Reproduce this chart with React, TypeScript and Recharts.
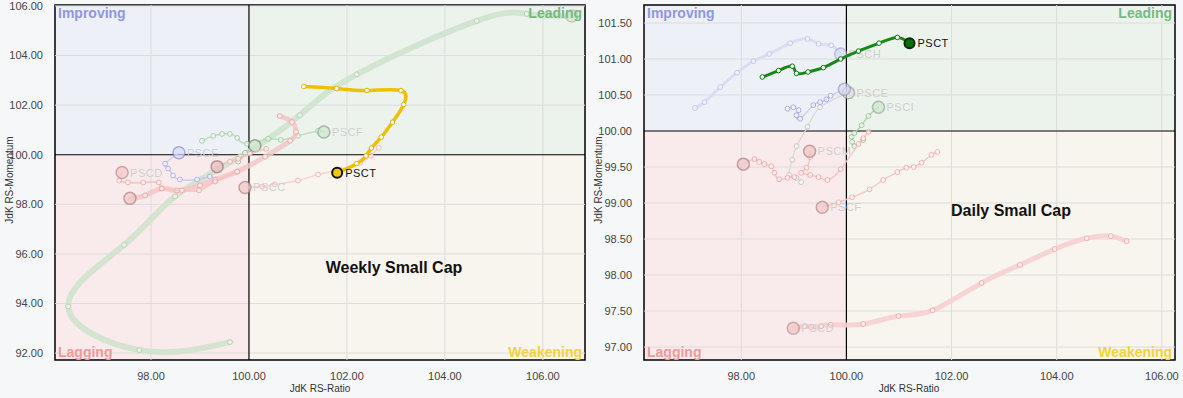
import React from "react";
import { ScatterChart, Scatter, XAxis, YAxis, ReferenceArea, ReferenceLine } from "recharts";

type Pt = [number, number];

const FONT = "Arial, 'Liberation Sans', Helvetica, sans-serif";

// ---- weekly chart values ----
const weeklyXTicks = [98, 100, 102, 104, 106];
const weeklyYTicks = [92, 94, 96, 98, 100, 102, 104, 106];
const weeklyXDomain: Pt = [96.04, 106.86];
const weeklyYDomain: Pt = [91.72, 106.04];

const weeklyPSCT: Pt[] = [
  [101.12, 102.75], [101.79, 102.67], [102.41, 102.59], [103.1, 102.59], [103.16, 102.03],
  [102.93, 101.31], [102.7, 100.71], [102.5, 100.27], [102.39, 99.95], [102.2, 99.64], [101.8, 99.27],
];
const weeklyBigGreen: Pt[] = [
  [99.61, 92.44], [97.76, 92.12], [96.31, 93.88], [97.45, 96.36], [98.49, 98.32], [99.82, 99.92],
  [101.04, 101.6], [102.2, 103.24], [104.65, 105.4], [105.67, 105.68], [106.59, 105.6],
];
const weeklyPSCF: Pt[] = [
  [99.04, 100.56], [99.27, 100.76], [99.45, 100.84], [99.61, 100.84], [99.76, 100.68], [99.96, 100.44],
  [100.39, 100.64], [100.65, 100.6], [101.0, 100.76], [101.41, 100.96], [101.53, 100.92],
];
const weeklyGreenB: Pt[] = [[99.78, 99.72], [99.92, 100.08], [100.12, 100.36]];
const weeklyPSCE: Pt[] = [
  [99.31, 98.96], [99.2, 99.12], [98.94, 99.0], [98.59, 99.0], [98.45, 99.16], [98.35, 99.44],
  [98.29, 99.64], [98.57, 100.08],
];
const weeklyPinkThick: Pt[] = [
  [100.63, 101.56], [100.88, 101.32], [100.96, 100.92], [100.84, 100.56], [100.33, 99.92], [99.76, 99.32],
  [99.31, 99.0], [99.0, 98.76], [98.53, 98.56], [98.22, 98.64], [97.88, 98.36], [97.57, 98.24],
];
const weeklyPSCD: Pt[] = [
  [99.76, 99.32], [99.31, 98.92], [98.98, 98.56], [98.63, 98.56], [98.22, 98.64], [98.16, 98.88],
  [97.84, 98.88], [97.53, 98.88], [97.35, 98.96], [97.41, 99.28],
];
const weeklyPinkC: Pt[] = [[100.35, 100.24], [100.02, 100.04], [99.78, 99.84], [99.61, 99.72], [99.35, 99.52]];
const weeklyPSCC: Pt[] = [
  [102.65, 100.28], [102.49, 99.96], [102.27, 99.68], [101.86, 99.4], [101.41, 99.2], [101.0, 98.96],
  [100.53, 98.8], [100.27, 98.72], [99.92, 98.68],
];

// ---- daily chart values ----
const dailyXTicks = [98, 100, 102, 104, 106];
const dailyYTicks = [97, 97.5, 98, 98.5, 99, 99.5, 100, 100.5, 101, 101.5];
const dailyXDomain: Pt = [96.15, 106.25];
const dailyYDomain: Pt = [96.82, 101.75];

const dailyPSCT: Pt[] = [
  [98.4, 100.75], [98.71, 100.84], [98.97, 100.9], [99.05, 100.8], [99.27, 100.82], [99.56, 100.88],
  [99.89, 101.0], [100.23, 101.11], [100.62, 101.22], [100.97, 101.3], [101.2, 101.22],
];
const dailyLavender: Pt[] = [
  [97.12, 100.32], [97.3, 100.4], [97.6, 100.61], [97.92, 100.81], [98.23, 100.97], [98.53, 101.07],
  [98.93, 101.22], [99.26, 101.28], [99.47, 101.21], [99.71, 101.19], [99.89, 101.07],
];
const dailyBlue: Pt[] = [
  [98.88, 100.31], [98.99, 100.33], [99.09, 100.29], [99.05, 100.22], [99.12, 100.17], [99.37, 100.36],
  [99.5, 100.4], [99.62, 100.44], [99.7, 100.49], [99.96, 100.58],
];
const dailyGray: Pt[] = [
  [99.14, 99.29], [99.05, 99.35], [98.91, 99.39], [98.97, 99.6], [99.05, 99.79], [99.26, 100.06],
  [99.5, 100.33], [100.04, 100.53],
];
const dailyGreen: Pt[] = [
  [100.32, 99.875], [100.15, 99.79], [100.11, 99.85], [100.1, 99.92], [100.15, 99.97], [100.29, 100.08],
  [100.42, 100.21], [100.61, 100.33],
];
const dailyPSCM: Pt[] = [
  [100.42, 99.99], [100.32, 99.9], [100.23, 99.82], [99.89, 99.47], [99.64, 99.32], [99.47, 99.36],
  [99.31, 99.39], [99.14, 99.42], [99.24, 99.49], [99.31, 99.64], [99.3, 99.72],
];
const dailyPSCS: Pt[] = [
  [99.01, 99.36], [98.88, 99.35], [98.72, 99.33], [98.63, 99.42], [98.57, 99.51], [98.44, 99.54],
  [98.34, 99.57], [98.25, 99.61], [98.04, 99.54],
];
const dailyPSCF: Pt[] = [
  [101.73, 99.71], [101.62, 99.67], [101.43, 99.56], [101.28, 99.5], [101.14, 99.49], [100.97, 99.43],
  [100.7, 99.32], [100.44, 99.19], [100.11, 99.08], [99.85, 99.01], [99.54, 98.94],
];
const dailyPSCD: Pt[] = [
  [105.33, 98.47], [105.03, 98.54], [104.57, 98.51], [103.96, 98.36], [103.3, 98.14], [102.57, 97.89],
  [101.64, 97.51], [100.99, 97.43], [100.32, 97.32], [99.7, 97.31], [99.52, 97.29], [99.33, 97.28],
  [99.2, 97.29], [98.99, 97.26],
];

type Trail = {
  name: string;
  label?: string;
  pts: Pt[];
  line: string;
  width: number;
  alpha: number;
  dot: string;
  headFill: string;
  headStroke: string;
  main?: boolean;
};

const weeklyTrails: Trail[] = [
  { name: "wbig", pts: weeklyBigGreen, line: "#cfe3cd", width: 6, alpha: 0.9, dot: "#a9c9a6", headFill: "#d4e8d2", headStroke: "#9ab89a" },
  { name: "wpscf", label: "PSCF", pts: weeklyPSCF, line: "#b3d9b3", width: 1.5, alpha: 0.8, dot: "#8cc58c", headFill: "#cfe6cf", headStroke: "#6f8f6f" },
  { name: "wgb", pts: weeklyGreenB, line: "#b3d9b3", width: 1.5, alpha: 0.8, dot: "#7fb87f", headFill: "#cfe6cf", headStroke: "#556b55" },
  { name: "wpsce", label: "PSCE", pts: weeklyPSCE, line: "#c4c4f0", width: 1.5, alpha: 0.8, dot: "#9c9ce6", headFill: "#dcdcf5", headStroke: "#7070d0" },
  { name: "wpinkthick", pts: weeklyPinkThick, line: "#f5c6c6", width: 5, alpha: 0.85, dot: "#f09a9a", headFill: "#f0c8c8", headStroke: "#a06868" },
  { name: "wpscd", label: "PSCD", pts: weeklyPSCD, line: "#f5c0c0", width: 2, alpha: 0.8, dot: "#ee9c9c", headFill: "#f3c9c9", headStroke: "#b07070" },
  { name: "wpinkc", pts: weeklyPinkC, line: "#f5c0c0", width: 2, alpha: 0.8, dot: "#ee9c9c", headFill: "#e8bcbc", headStroke: "#8a5a5a" },
  { name: "wpscc", label: "PSCC", pts: weeklyPSCC, line: "#f7caca", width: 1.5, alpha: 0.8, dot: "#f0a6a6", headFill: "#f3c9c9", headStroke: "#9a6a6a" },
  { name: "wpsct", label: "PSCT", pts: weeklyPSCT, line: "#f0c000", width: 3.5, alpha: 1, dot: "#e2b400", headFill: "#f4c60e", headStroke: "#111", main: true },
];

const dailyTrails: Trail[] = [
  { name: "dlav", label: "PSCH", pts: dailyLavender, line: "#dcdcf3", width: 3, alpha: 1, dot: "#b8b8e8", headFill: "#d8d8f2", headStroke: "#9a9ac8" },
  { name: "dpscd", label: "PSCD", pts: dailyPSCD, line: "#f7cfcf", width: 5, alpha: 0.9, dot: "#f0a0a0", headFill: "#f0c8c8", headStroke: "#b07a7a" },
  { name: "dpscf", label: "PSCF", pts: dailyPSCF, line: "#f6c4c4", width: 1.5, alpha: 0.9, dot: "#f0a0a0", headFill: "#f0c8c8", headStroke: "#a87272" },
  { name: "dgray", label: "PSCE", pts: dailyGray, line: "#d8d8d8", width: 1.2, alpha: 1, dot: "#bbbbbb", headFill: "#dddddd", headStroke: "#888888" },
  { name: "dblue", pts: dailyBlue, line: "#c6cbf2", width: 1.2, alpha: 1, dot: "#8d96e0", headFill: "#d6d8f2", headStroke: "#8a8aa8" },
  { name: "dgreen", label: "PSCI", pts: dailyGreen, line: "#a9d3a9", width: 1.5, alpha: 0.9, dot: "#7fbf7f", headFill: "#cfe6cf", headStroke: "#7a9a7a" },
  { name: "dpscm", label: "PSCM", pts: dailyPSCM, line: "#f6c4c4", width: 1.5, alpha: 0.9, dot: "#ee9a9a", headFill: "#f0c4c4", headStroke: "#9a6a6a" },
  { name: "dpscs", pts: dailyPSCS, line: "#f6c4c4", width: 1.5, alpha: 0.9, dot: "#ee9a9a", headFill: "#f0c4c4", headStroke: "#9a6a6a" },
  { name: "dpsct", label: "PSCT", pts: dailyPSCT, line: "#148a14", width: 3, alpha: 1, dot: "#0b7a0b", headFill: "#0b6e0b", headStroke: "#032b03", main: true },
];

const tickStyle = { fontSize: 11, fill: "#444", fontFamily: FONT };
const fmt = (v: number) => v.toFixed(2);

function makeShape(t: Trail) {
  return (p: any) => {
    const { cx, cy, payload } = p;
    if (cx == null || cy == null) return <g />;
    if (!payload.head) {
      return (
        <circle cx={cx} cy={cy} r={t.main ? 2.3 : 2.4} fill="#fff" fillOpacity={t.main ? 1 : 0.6}
          stroke={t.dot} strokeOpacity={t.main ? 1 : 0.75} strokeWidth={1} />
      );
    }
    if (t.main) {
      return (
        <g>
          <circle cx={cx} cy={cy} r={5} fill={t.headFill} stroke={t.headStroke} strokeWidth={2} />
          <text x={cx + 8} y={cy + 4} fontSize={11} fontFamily={FONT} fill="#111" letterSpacing={0.5}>{t.label}</text>
        </g>
      );
    }
    return (
      <g>
        <circle cx={cx} cy={cy} r={6} fill={t.headFill} fillOpacity={0.7} stroke={t.headStroke} strokeOpacity={0.55} strokeWidth={1.5} />
        {t.label ? (
          <text x={cx + 8} y={cy + 4} fontSize={11} fontFamily={FONT} fill="#cfcfcf" letterSpacing={0.5}>{t.label}</text>
        ) : null}
      </g>
    );
  };
}

const quadLabel = (value: string, position: string, fill: string) => ({
  value, position, offset: 3, fill, fontSize: 14, fontWeight: "bold", fontFamily: FONT,
});

function Rrg({ left, width, yWidth, rightM, xDomain, yDomain, xTicks, yTicks, trails }: {
  left: number; width: number; yWidth: number; rightM: number;
  xDomain: Pt; yDomain: Pt; xTicks: number[]; yTicks: number[]; trails: Trail[];
}) {
  const [x0, x1] = xDomain;
  const [y0, y1] = yDomain;
  return (
    <div style={{ position: "absolute", left, top: 0 }}>
      <ScatterChart width={width} height={398} margin={{ top: 5, right: rightM, bottom: 0, left: 0 }}>
        <XAxis type="number" dataKey="x" domain={xDomain} ticks={xTicks} allowDataOverflow axisLine={false}
          tickLine={false} tickMargin={6} height={38} tick={tickStyle} tickFormatter={fmt} />
        <YAxis type="number" dataKey="y" domain={yDomain} ticks={yTicks} allowDataOverflow axisLine={false}
          tickLine={false} tickMargin={6} width={yWidth} tick={tickStyle} tickFormatter={fmt} />
        <ReferenceArea x1={x0} x2={100} y1={100} y2={y1} fill="#eef0f8" fillOpacity={1}
          label={quadLabel("Improving", "insideTopLeft", "#9097dd")} />
        <ReferenceArea x1={100} x2={x1} y1={100} y2={y1} fill="#ecf3ed" fillOpacity={1}
          label={quadLabel("Leading", "insideTopRight", "#78b982")} />
        <ReferenceArea x1={x0} x2={100} y1={y0} y2={100} fill="#f9ebeb" fillOpacity={1}
          label={quadLabel("Lagging", "insideBottomLeft", "#ef9a9a")} />
        <ReferenceArea x1={100} x2={x1} y1={y0} y2={100} fill="#f8f5ee" fillOpacity={1}
          label={quadLabel("Weakening", "insideBottomRight", "#f3d23c")} />
        {xTicks.filter((t) => t !== 100).map((t) => (
          <ReferenceLine key={"gx" + t} x={t} stroke="#dcdcdc" />
        ))}
        {yTicks.filter((t) => t !== 100).map((t) => (
          <ReferenceLine key={"gy" + t} y={t} stroke="#dcdcdc" />
        ))}
        <ReferenceLine x={100} stroke="#000" strokeWidth={1.2} />
        <ReferenceLine y={100} stroke="#000" strokeWidth={1.2} />
        <ReferenceArea x1={x0} x2={x1} y1={y0} y2={y1} fill="none" stroke="#000" strokeWidth={1.5} />
        {trails.map((t) => (
          <Scatter
            key={t.name}
            data={t.pts.map((p, i) => ({ x: p[0], y: p[1], head: i === t.pts.length - 1 }))}
            line={{ stroke: t.line, strokeWidth: t.width, strokeOpacity: t.alpha, strokeLinecap: "round", strokeLinejoin: "round" }}
            lineJointType="natural"
            shape={makeShape(t)}
            isAnimationActive={false}
          />
        ))}
      </ScatterChart>
    </div>
  );
}

const axisText: React.CSSProperties = {
  position: "absolute", fontFamily: FONT, fontSize: 10, color: "#333", whiteSpace: "nowrap",
};
const titleText: React.CSSProperties = {
  position: "absolute", fontFamily: FONT, fontSize: 16, fontWeight: "bold", color: "#111",
  whiteSpace: "nowrap", transform: "translate(-50%, -50%)",
};

export default function App() {
  return (
    <div style={{ position: "fixed", left: 0, top: 0, width: 1183, height: 398, background: "#f6f7f9", overflow: "hidden" }}>
      <Rrg left={0} width={590} yWidth={55} rightM={5} xDomain={weeklyXDomain} yDomain={weeklyYDomain}
        xTicks={weeklyXTicks} yTicks={weeklyYTicks} trails={weeklyTrails} />
      <Rrg left={590} width={593} yWidth={54} rightM={8} xDomain={dailyXDomain} yDomain={dailyYDomain}
        xTicks={dailyXTicks} yTicks={dailyYTicks} trails={dailyTrails} />
      <div style={{ ...titleText, left: 394, top: 268 }}>Weekly Small Cap</div>
      <div style={{ ...titleText, left: 1011, top: 211 }}>Daily Small Cap</div>
      <div style={{ ...axisText, left: 320, top: 388, transform: "translate(-50%, -50%)" }}>JdK RS-Ratio</div>
      <div style={{ ...axisText, left: 909, top: 388, transform: "translate(-50%, -50%)" }}>JdK RS-Ratio</div>
      <div style={{ ...axisText, left: 9, top: 180, transform: "translate(-50%, -50%) rotate(-90deg)" }}>JdK RS-Momentum</div>
      <div style={{ ...axisText, left: 598, top: 180, transform: "translate(-50%, -50%) rotate(-90deg)" }}>JdK RS-Momentum</div>
    </div>
  );
}
